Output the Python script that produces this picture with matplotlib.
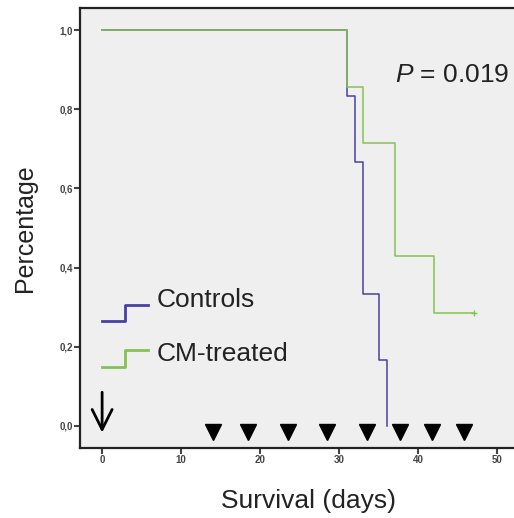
import matplotlib
matplotlib.use("Agg")
import matplotlib.pyplot as plt

plt.rcParams['font.family'] = ['Liberation Sans', 'DejaVu Sans']
plt.rcParams['mathtext.fontset'] = 'custom'
plt.rcParams['mathtext.it'] = 'Liberation Sans:italic'
plt.rcParams['mathtext.rm'] = 'Liberation Sans'

# Kaplan-Meier step data
controls_days = [0, 31, 32, 33, 35, 36]
controls_surv = [1.0, 0.833, 0.667, 0.333, 0.167, 0.0]
treated_days = [0, 31, 33, 37, 42, 47]
treated_surv = [1.0, 0.857, 0.714, 0.429, 0.286, 0.286]
censor_day = [47]
censor_surv = [0.286]
injection_days = [14, 18.5, 23.5, 28.5, 33.5, 37.7, 41.7, 45.8]

xticks = [0, 10, 20, 30, 40, 50]
yticks = [0.0, 0.2, 0.4, 0.6, 0.8, 1.0]
ytick_labels = ['0,0', '0,2', '0,4', '0,6', '0,8', '1,0']

blue = '#4a3fa6'
green = '#84c350'

fig = plt.figure(figsize=(5.14, 5.18), dpi=100)
ax = fig.add_axes([0.1556, 0.1351, 0.889, 0.8494])
ax.set_facecolor('#efefef')

ax.step(controls_days, controls_surv, where='post', color=blue, lw=1.1)
ax.step(treated_days, treated_surv, where='post', color=green, lw=1.1)
ax.plot(censor_day, censor_surv, '+', color=green, ms=5, mew=1)

# injection markers
ax.plot(injection_days, [-0.016] * len(injection_days), 'v', color='black',
        ms=11, clip_on=False)

# arrow at day 0
ax.annotate('', xy=(0, -0.024), xytext=(0, 0.092),
            arrowprops=dict(arrowstyle='->', color='black', lw=2,
                            mutation_scale=36))

# legend drawn as small step symbols
ax.plot([0, 2.9, 2.9, 5.8], [0.265, 0.265, 0.306, 0.306], color=blue, lw=2)
ax.plot([0, 2.9, 2.9, 5.8], [0.149, 0.149, 0.192, 0.192], color=green, lw=2)
ax.text(6.9, 0.318, 'Controls', fontsize=19, va='center', color='#222222')
ax.text(6.9, 0.182, 'CM-treated', fontsize=19, va='center', color='#222222')

ax.text(37.1, 0.888, r'$P$ = 0.019', fontsize=19, va='center', color='#222222')

ax.set_xlim(-2.8, 55)
ax.set_ylim(-0.056, 1.056)
ax.set_xticks(xticks)
ax.set_xticklabels([str(t) for t in xticks], fontweight='bold')
ax.set_yticks(yticks)
ax.set_yticklabels(ytick_labels, fontweight='bold')
ax.tick_params(labelsize=7, length=4, width=1.5, colors='#444444', pad=1)

for s in ax.spines.values():
    s.set_linewidth(1.6)
    s.set_color('#222222')

ax.set_xlabel('Survival (days)', fontsize=19, labelpad=17, color='#222222')
ax.set_ylabel('Percentage', fontsize=18, labelpad=16, color='#222222')

fig.savefig('out.png', dpi=100)
